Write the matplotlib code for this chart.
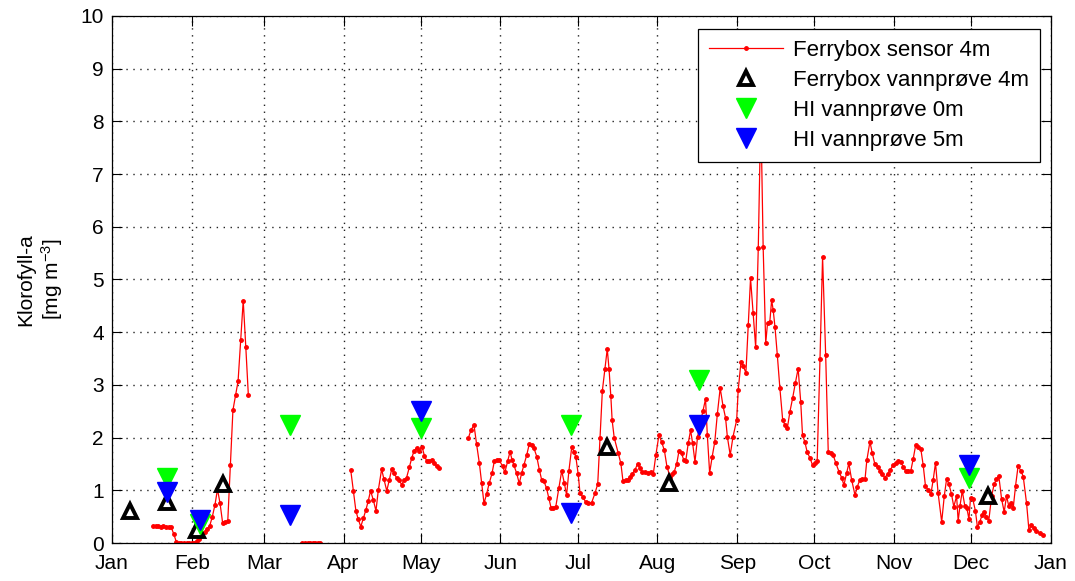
import matplotlib
matplotlib.use('Agg')
import matplotlib.pyplot as plt
import numpy as np

plt.rcParams['font.family'] = ['Liberation Sans', 'DejaVu Sans']
plt.rcParams['mathtext.default'] = 'regular'

# month ticks (day of year)
month_days = [0, 31, 59, 90, 120, 151, 181, 212, 243, 273, 304, 334, 365]
month_labels = ['Jan', 'Feb', 'Mar', 'Apr', 'May', 'Jun', 'Jul', 'Aug',
                'Sep', 'Oct', 'Nov', 'Dec', 'Jan']

# Ferrybox sensor 4m (day of year, mg/m3)
jan_days = list(range(16, 54))
jan_vals = [0.33, 0.32, 0.33, 0.31, 0.33, 0.30, 0.31, 0.30, 0.17, 0.02,
            0, 0, 0, 0, 0, 0, 0,
            0.03, 0.08, 0.15, 0.20, 0.27, 0.33, 0.50, 0.72, 1.02, 0.75,
            0.38, 0.39, 0.42, 1.48, 2.52, 2.80, 3.07, 3.85, 4.60, 3.72, 2.80]

mar_days = list(range(74, 82))
mar_vals = [0, 0, 0, 0, 0, 0, 0, 0]

apr_days = [92.8, 93.8, 94.8, 95.7, 96.7, 97.7, 98.7, 99.6, 100.5, 101.6,
            102.6, 103.5, 104.8, 105.7, 106.8, 107.8, 108.7, 109.6, 110.6,
            111.5, 112.6, 113.5, 114.5, 115.6, 116.5, 117.4, 118.4, 119.4,
            120.5, 121.4, 122.3, 123.2, 124.3, 125.1, 126.2, 127.1]
apr_vals = [1.38, 0.99, 0.61, 0.45, 0.31, 0.47, 0.63, 0.80, 0.99, 0.81,
            0.61, 1.00, 1.40, 1.21, 0.99, 1.20, 1.40, 1.32, 1.24,
            1.19, 1.11, 1.19, 1.24, 1.44, 1.61, 1.75, 1.80, 1.75,
            1.83, 1.66, 1.56, 1.55, 1.58, 1.52, 1.46, 1.42]

jun_days = [138.5, 139.5, 140.7, 141.7, 142.8, 143.7, 144.6, 145.6, 146.6,
            147.7, 148.6, 149.5, 150.4, 151.8, 152.7, 153.8, 154.7, 155.5,
            156.2, 157.3, 158.3, 159.2, 160.1, 161.2, 162.2, 163.1, 164.0,
            165.1, 166.1, 167.0, 167.9, 168.9, 169.8, 170.7, 171.5, 172.5,
            173.7, 174.8, 175.8, 176.7, 177.6, 178.7, 179.6, 180.3, 181.2,
            181.9, 182.9, 184.1, 185.1, 186.4, 187.7, 188.8, 189.7, 190.6,
            191.6, 192.5, 193.2, 193.9, 194.4, 195.2, 196.8, 197.8, 198.6,
            199.6, 200.4, 201.3, 202.2, 203.2, 204.3, 205.2, 206.1, 207.2,
            208.2, 209.4, 210.4, 211.4, 212.6, 213.6, 214.7, 215.7, 216.9,
            217.8, 218.5, 219.5, 220.4, 221.4, 222.2, 223.0, 224.0, 224.9,
            225.7, 226.6, 227.6, 228.6, 229.7, 230.7, 231.4, 232.3, 233.3,
            234.3, 235.3, 236.4, 237.5, 238.5, 239.2, 240.3, 241.4, 242.8,
            243.4, 244.5, 245.4, 246.4, 247.3, 248.2, 249.2, 250.2, 251.2,
            252.2, 253.1, 254.1, 254.8, 255.7, 256.4, 257.0, 257.7, 258.6,
            259.6, 260.7, 261.6, 262.5, 263.5, 264.6, 265.6, 266.7, 267.7,
            268.4, 269.3, 270.2, 271.3, 272.3, 273.2, 274.1, 275.2, 276.2,
            277.4, 278.4, 279.4, 280.3, 281.4, 282.6, 283.6, 284.5, 285.5,
            286.4, 287.5, 288.8, 289.7, 290.7, 291.6, 292.7, 293.4, 294.6,
            295.5, 296.5, 297.6, 298.5, 299.4, 300.4, 301.5, 302.5, 303.7,
            304.6, 305.6, 306.6, 307.5, 308.5, 309.5, 310.5, 311.4, 312.4,
            313.4, 314.4, 315.3, 316.2, 317.3, 318.3, 319.2, 320.1, 321.1,
            322.5, 323.5, 324.4, 325.3, 326.3, 327.2, 328.3, 328.9, 329.6,
            330.5, 331.5, 332.3, 333.1, 333.7, 334.6, 335.6, 336.4, 337.3,
            338.2, 339.0, 339.9, 340.8, 341.9, 342.9, 343.8, 344.7, 345.8,
            346.8, 347.7, 348.6, 349.4, 350.3, 351.2, 352.2, 353.3, 354.2,
            355.5, 356.4, 357.4, 358.4, 359.3, 360.7, 362.0]
jun_vals = [1.99, 2.14, 2.24, 1.88, 1.51, 1.13, 0.75, 0.93, 1.13,
            1.32, 1.55, 1.58, 1.58, 1.46, 1.34, 1.55, 1.73, 1.58,
            1.48, 1.32, 1.13, 1.32, 1.48, 1.67, 1.88, 1.86, 1.80,
            1.64, 1.39, 1.20, 1.17, 1.04, 0.85, 0.66, 0.66, 0.69,
            1.04, 1.37, 1.14, 0.91, 1.37, 1.82, 1.73, 1.63, 1.31,
            0.95, 0.88, 0.78, 0.76, 0.76, 0.94, 1.12, 1.99, 2.89,
            3.30, 3.68, 3.30, 2.78, 2.33, 2.00, 1.70, 1.51, 1.18,
            1.19, 1.20, 1.25, 1.31, 1.38, 1.50, 1.42, 1.35, 1.34,
            1.33, 1.34, 1.31, 1.67, 2.05, 1.92, 1.76, 1.45, 1.26,
            1.30, 1.35, 1.50, 1.75, 1.70, 1.58, 1.55, 1.90, 2.14,
            1.89, 1.54, 2.01, 2.26, 2.51, 2.73, 2.05, 1.33, 1.64,
            1.92, 2.45, 2.94, 2.60, 2.37, 2.01, 1.67, 2.02, 2.33,
            2.90, 3.44, 3.35, 3.23, 4.14, 5.02, 4.36, 3.71, 5.59,
            8.20, 5.62, 3.79, 4.17, 4.20, 4.61, 4.42, 4.10, 3.57,
            2.94, 2.33, 2.24, 2.18, 2.49, 2.76, 3.03, 3.31, 2.68,
            2.05, 1.92, 1.73, 1.61, 1.48, 1.51, 1.55, 3.50, 5.43,
            3.57, 1.73, 1.70, 1.67, 1.51, 1.35, 1.24, 1.10, 1.32,
            1.51, 1.20, 0.91, 1.07, 1.20, 1.21, 1.21, 1.57, 1.92,
            1.71, 1.50, 1.45, 1.37, 1.31, 1.24, 1.31, 1.39, 1.48,
            1.52, 1.56, 1.54, 1.45, 1.37, 1.36, 1.37, 1.59, 1.86,
            1.83, 1.78, 1.48, 1.08, 1.00, 0.93, 1.20, 1.52, 0.95,
            0.40, 0.89, 1.21, 1.12, 0.93, 0.69, 0.89, 0.42, 0.70,
            0.99, 0.70, 0.66, 0.45, 0.86, 0.83, 0.61, 0.30, 0.40,
            0.53, 0.59, 0.50, 0.42, 0.89, 1.12, 1.21, 1.27, 0.83,
            0.59, 0.89, 0.70, 0.76, 0.66, 1.08, 1.46, 1.37, 1.26,
            0.75, 0.25, 0.34, 0.28, 0.23, 0.19, 0.15]

# water samples
fb_days = [7.0, 21.3, 32.9, 43.0, 192.5, 216.6, 340.6]
fb_vals = [0.60, 0.78, 0.25, 1.12, 1.83, 1.13, 0.89]

hi0_days = [21.5, 34.2, 69.2, 120.1, 178.4, 228.1, 333.1]
hi0_vals = [1.23, 0.36, 2.24, 2.18, 2.24, 3.10, 1.23]

hi5_days = [21.5, 34.2, 69.2, 120.1, 178.4, 228.1, 333.1]
hi5_vals = [0.97, 0.43, 0.53, 2.51, 0.56, 2.24, 1.48]

# join sensor segments with gaps
sensor_days = jan_days + [np.nan] + mar_days + [np.nan] + apr_days + [np.nan] + jun_days
sensor_vals = jan_vals + [np.nan] + mar_vals + [np.nan] + apr_vals + [np.nan] + jun_vals

fig = plt.figure(figsize=(10.75, 5.81), dpi=100)
ax = fig.add_axes([0.1042, 0.0654, 0.8735, 0.9071])

ax.plot(sensor_days, sensor_vals, color='#ff0000', lw=0.9, marker='.', ms=5,
        label='Ferrybox sensor 4m')
ax.plot(fb_days, fb_vals, ls='none', marker='^', ms=10, mfc='white', mec='black',
        mew=2.8, label='Ferrybox vannprøve 4m')
ax.plot(hi0_days, hi0_vals, ls='none', marker='v', ms=14, mfc='#00ff00', mec='#00ff00',
        label='HI vannprøve 0m')
ax.plot(hi5_days, hi5_vals, ls='none', marker='v', ms=14, mfc='#0000ff', mec='#0000ff',
        label='HI vannprøve 5m')

ax.set_xlim(0, 365)
ax.set_ylim(0, 10)
ax.set_xticks(month_days)
ax.set_xticklabels(month_labels)
ax.set_yticks(range(0, 11))
ax.tick_params(direction='in', top=True, right=True, length=7, width=0.8,
               labelsize=15)
ax.tick_params(axis='x', pad=8)
ax.tick_params(axis='y', pad=6)
ax.grid(True, ls=(0, (1, 4)), color='#222222', lw=1.0)
for s in ax.spines.values():
    s.set_linewidth(0.9)

ax.set_ylabel('Klorofyll-a\n[mg m$^{-3}$]', fontsize=15)
ax.yaxis.set_label_coords(-0.05, 0.5)

leg = ax.legend(loc='upper right', bbox_to_anchor=(0.988, 0.975), borderaxespad=0,
                fontsize=16, numpoints=1, fancybox=False, framealpha=1,
                edgecolor='black', labelspacing=0.4, handlelength=3.3,
                handletextpad=0.45, borderpad=0.5)
leg.get_frame().set_linewidth(0.9)

fig.savefig('out.png', dpi=100)
